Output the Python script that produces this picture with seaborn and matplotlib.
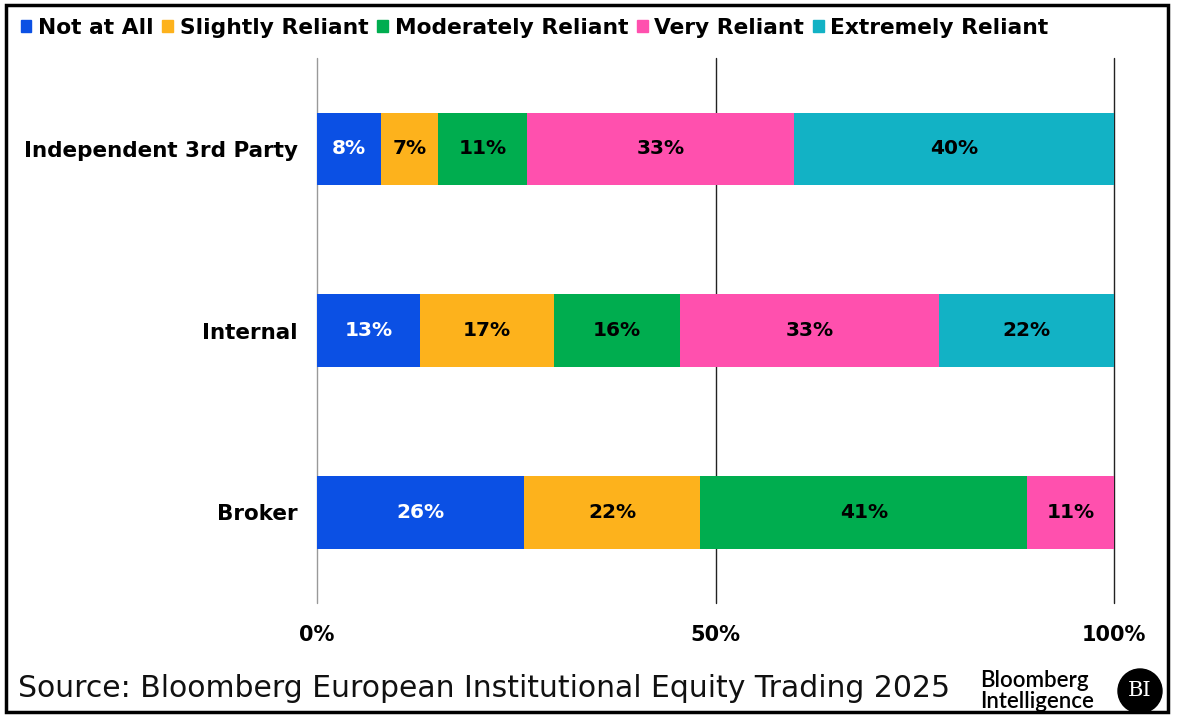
import numpy as np
import pandas as pd
import matplotlib
matplotlib.use("Agg")
import matplotlib.pyplot as plt
import matplotlib.patches as mpatches
import seaborn as sns

# data (shares in %)
sources = ["Independent 3rd Party", "Internal", "Broker"]
levels = ["Not at All", "Slightly Reliant", "Moderately Reliant", "Very Reliant", "Extremely Reliant"]
not_at_all = [8.0, 12.9, 26.0]
slightly = [7.2, 16.8, 22.1]
moderately = [11.2, 15.8, 41.0]
very = [33.4, 32.6, 10.9]
extremely = [40.3, 21.9, 0.0]
colors = ["#0B50E4", "#FDB21C", "#00AD4F", "#FF50AE", "#12B2C5"]
text_colors = ["white", "black", "black", "black", "black"]

df = pd.DataFrame({"Source": sources, "Not at All": not_at_all, "Slightly Reliant": slightly,
                   "Moderately Reliant": moderately, "Very Reliant": very,
                   "Extremely Reliant": extremely})
cum = df[levels].cumsum(axis=1)

sns.set_style("white")
plt.rcParams["font.family"] = ["DejaVu Sans"]

fig = plt.figure(figsize=(11.81, 7.28), dpi=100)
ax = fig.add_axes([0.2684, 0.1717, 0.9433 - 0.2684, 0.9203 - 0.1717])

# gridlines behind bars
ax.axvline(0, color="#999999", lw=1, zorder=0, clip_on=False)
ax.axvline(50, color="#222222", lw=1, zorder=0, clip_on=False)
ax.axvline(100, color="#222222", lw=1, zorder=0, clip_on=False)

# stacked bars: draw cumulative totals from the right end back
for i in range(len(levels) - 1, -1, -1):
    sns.barplot(x=cum[levels[i]], y=df["Source"], color=colors[i], width=0.4,
                orient="h", saturation=1, edgecolor="none", ax=ax, zorder=2)

for i, lvl in enumerate(levels):
    for j in range(len(sources)):
        v = df[lvl][j]
        if v <= 0:
            continue
        ax.text(cum[lvl][j] - v / 2, j, f"{v:.0f}%", ha="center", va="center",
                color=text_colors[i], fontsize=14.5, fontweight="bold", zorder=3)

ax.set_xlim(0, 100)
ax.set_ylim(2.5, -0.5)
ax.set_xticks([0, 50, 100])
ax.set_xticklabels(["0%", "50%", "100%"], fontsize=15, fontweight="bold", color="black")
ax.set_yticks(range(len(sources)))
ax.set_yticklabels(sources, fontsize=15.5, fontweight="bold", color="black")
ax.tick_params(axis="x", length=0, pad=16)
ax.tick_params(axis="y", length=0, pad=14)
ax.set_xlabel("")
ax.set_ylabel("")
for s in ax.spines.values():
    s.set_visible(False)

handles = [mpatches.Patch(color=c, label=l) for c, l in zip(colors, levels)]
leg = fig.legend(handles=handles, loc="center left", bbox_to_anchor=(0.01, 0.962), ncol=5,
                 frameon=False, handlelength=0.5, handleheight=0.5, handletextpad=0.3,
                 columnspacing=0.4, prop={"weight": "bold", "size": 15.7}, borderaxespad=0)
for t in leg.get_texts():
    t.set_color("black")

fig.text(0.015, 0.054, "Source: Bloomberg European Institutional Equity Trading 2025",
         fontsize=21.5, color="#111111", va="center", ha="left")
fig.text(980 / 1181, 1 - 691 / 728, "Bloomberg\nIntelligence", fontsize=16, color="black",
         family=["Lato", "DejaVu Sans"], fontweight="semibold",
         va="center", ha="left", linespacing=1.0)
circ = mpatches.Ellipse((1140 / 1181, 1 - 691 / 728), 44 / 1181, 44 / 728,
                        transform=fig.transFigure, color="black")
fig.patches.append(circ)
fig.text(1140 / 1181, 1 - 691 / 728, "BI", fontsize=15, color="white", family="DejaVu Serif",
         ha="center", va="center")

frame = mpatches.Rectangle((6 / 1181, 1 - 712 / 728), 1162 / 1181, 707 / 728,
                           transform=fig.transFigure, fill=False, edgecolor="black", lw=2.5)
fig.patches.append(frame)

fig.savefig("out.png", dpi=100)
